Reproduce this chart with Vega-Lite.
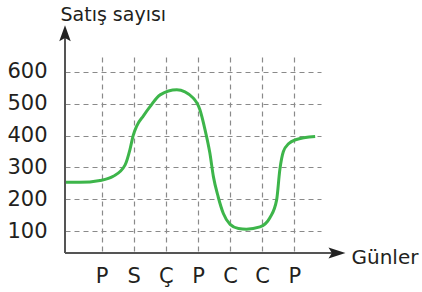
{
  "$schema": "https://vega.github.io/schema/vega-lite/v6.json",
  "width": 256,
  "height": 196,
  "autosize": {"type": "none"},
  "padding": {"left": 65, "top": 57, "right": 101, "bottom": 39},
  "background": "white",
  "config": {
    "view": {"stroke": null},
    "axis": {
      "domain": false,
      "ticks": false,
      "grid": true,
      "gridDash": [5, 4],
      "gridColor": "#8a8a8a",
      "gridWidth": 1.2,
      "labelFont": "DejaVu Sans",
      "labelFontSize": 21,
      "labelColor": "#231f20",
      "titleFont": "DejaVu Sans",
      "titleColor": "#231f20",
      "titleFontWeight": "normal",
      "titleAngle": 0,
      "titleAlign": "left",
      "titleBaseline": "alphabetic",
      "labelFlush": false,
      "labelOverlap": false,
      "labelBound": false
    },
    "axisX": {"labelPadding": 12, "titleX": 286, "titleY": 10, "titleFontSize": 20},
    "axisY": {"labelPadding": 18, "titleX": -5, "titleY": -37, "titleFontSize": 19}
  },
  "layer": [
    {
      "data": {
        "values": [
          {"gun": -0.143, "satis": 253},
          {"gun": 0.32, "satis": 253},
          {"gun": 0.947, "satis": 259},
          {"gun": 1.36, "satis": 272},
          {"gun": 1.73, "satis": 308},
          {"gun": 1.88, "satis": 356},
          {"gun": 1.98, "satis": 400},
          {"gun": 2.09, "satis": 430},
          {"gun": 2.3, "satis": 462},
          {"gun": 2.5, "satis": 490},
          {"gun": 2.82, "satis": 528},
          {"gun": 3.34, "satis": 544},
          {"gun": 3.85, "satis": 518},
          {"gun": 4.06, "satis": 481},
          {"gun": 4.22, "satis": 418},
          {"gun": 4.37, "satis": 345},
          {"gun": 4.48, "satis": 271},
          {"gun": 4.63, "satis": 207},
          {"gun": 4.79, "satis": 155},
          {"gun": 5.0, "satis": 121},
          {"gun": 5.26, "satis": 108},
          {"gun": 5.51, "satis": 106},
          {"gun": 5.93, "satis": 113},
          {"gun": 6.24, "satis": 142},
          {"gun": 6.45, "satis": 198},
          {"gun": 6.55, "satis": 293},
          {"gun": 6.66, "satis": 350},
          {"gun": 6.82, "satis": 374},
          {"gun": 7.04, "satis": 387},
          {"gun": 7.65, "satis": 397}
        ]
      },
      "mark": {"type": "line", "interpolate": "monotone", "color": "#3db54a", "strokeWidth": 3},
      "encoding": {
        "x": {
          "field": "gun",
          "type": "quantitative",
          "scale": {"domain": [-0.143, 7.832], "nice": false, "zero": false},
          "axis": {"values": [1, 2, 3, 4, 5, 6, 7], "labelExpr": "['', 'P', 'S', 'Ç', 'P', 'C', 'C', 'P'][datum.value]"},
          "title": "Günler"
        },
        "y": {
          "field": "satis",
          "type": "quantitative",
          "scale": {"domain": [31, 647], "nice": false, "zero": false},
          "axis": {"values": [100, 200, 300, 400, 500, 600]},
          "title": "Satış sayısı"
        }
      }
    },
    {
      "data": {"values": [{}]},
      "mark": {"type": "rule", "color": "#555555", "strokeWidth": 2},
      "encoding": {
        "x": {"datum": -0.143, "type": "quantitative", "axis": {"values": [1, 2, 3, 4, 5, 6, 7], "labelExpr": "['', 'P', 'S', 'Ç', 'P', 'C', 'C', 'P'][datum.value]"}, "title": "Günler"},
        "y": {"datum": 31, "type": "quantitative", "axis": {"values": [100, 200, 300, 400, 500, 600]}, "title": "Satış sayısı"},
        "y2": {"datum": 728}
      }
    },
    {
      "data": {"values": [{}]},
      "mark": {"type": "rule", "color": "#555555", "strokeWidth": 2},
      "encoding": {
        "x": {"datum": -0.143, "type": "quantitative", "axis": {"values": [1, 2, 3, 4, 5, 6, 7], "labelExpr": "['', 'P', 'S', 'Ç', 'P', 'C', 'C', 'P'][datum.value]"}, "title": "Günler"},
        "x2": {"datum": 8.35},
        "y": {"datum": 31, "type": "quantitative", "axis": {"values": [100, 200, 300, 400, 500, 600]}, "title": "Satış sayısı"}
      }
    },
    {
      "data": {"values": [{}]},
      "mark": {"type": "point", "filled": true, "opacity": 1, "color": "#222222", "size": 256, "shape": "M0,-1L0.72,1L0,0.6L-0.72,1Z"},
      "encoding": {
        "x": {"datum": -0.143, "type": "quantitative", "axis": {"values": [1, 2, 3, 4, 5, 6, 7], "labelExpr": "['', 'P', 'S', 'Ç', 'P', 'C', 'C', 'P'][datum.value]"}, "title": "Günler"},
        "y": {"datum": 722, "type": "quantitative", "axis": {"values": [100, 200, 300, 400, 500, 600]}, "title": "Satış sayısı"}
      }
    },
    {
      "data": {"values": [{}]},
      "mark": {"type": "point", "filled": true, "opacity": 1, "color": "#222222", "size": 289, "shape": "M1,0L-1,0.64L-0.6,0L-1,-0.64Z"},
      "encoding": {
        "x": {"datum": 8.33, "type": "quantitative", "axis": {"values": [1, 2, 3, 4, 5, 6, 7], "labelExpr": "['', 'P', 'S', 'Ç', 'P', 'C', 'C', 'P'][datum.value]"}, "title": "Günler"},
        "y": {"datum": 31, "type": "quantitative", "axis": {"values": [100, 200, 300, 400, 500, 600]}, "title": "Satış sayısı"}
      }
    }
  ]
}
